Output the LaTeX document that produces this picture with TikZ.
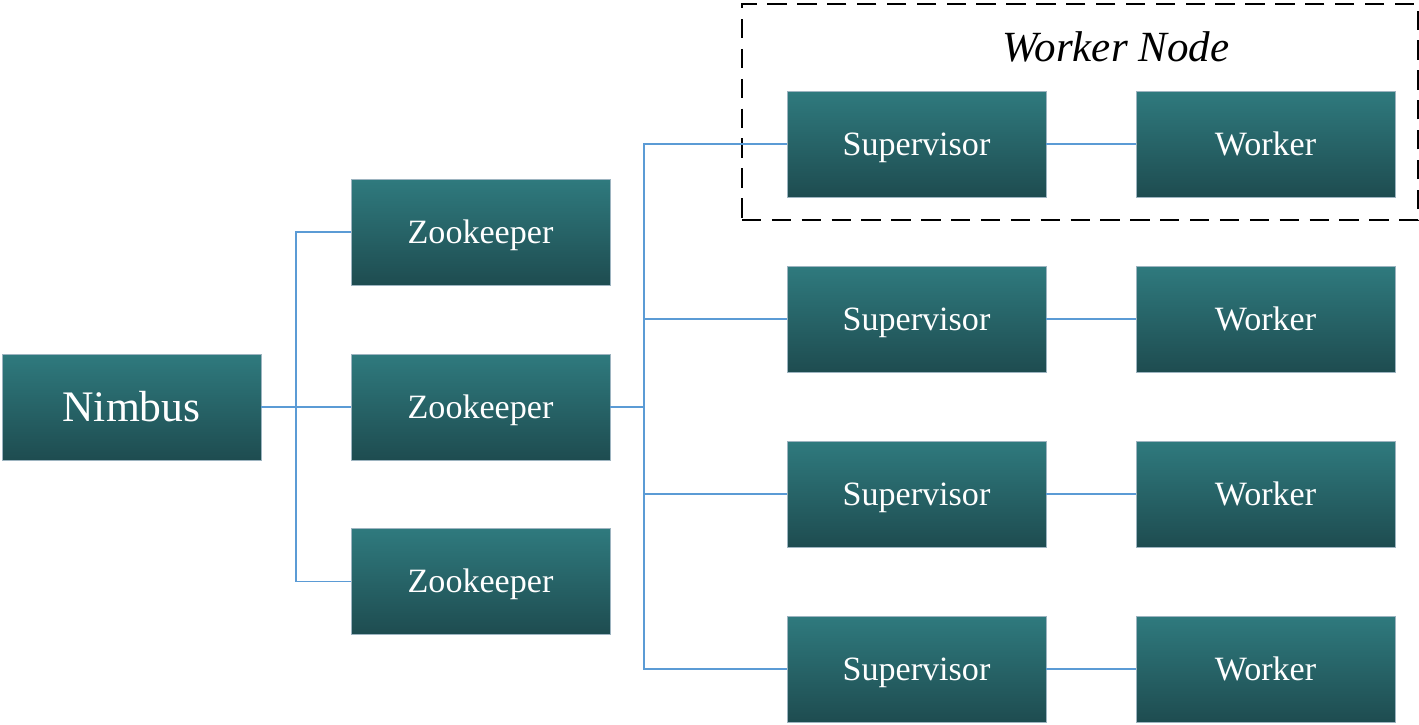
\documentclass[tikz,border=0pt]{standalone}
\usepackage{fontspec}
\setmainfont{Liberation Serif}
\usepackage{tikz}
\usetikzlibrary{positioning,fit,calc}
\definecolor{tealtop}{HTML}{2F7A7E}
\definecolor{tealbot}{HTML}{1E4C50}
\definecolor{rim}{HTML}{9DB4C0}
\definecolor{wire}{HTML}{5B9BD5}
\tikzset{
  unit/.style={rectangle, draw=rim, line width=0.4pt, top color=tealtop, bottom color=tealbot,
               text=white, minimum width=5.18cm, minimum height=2.12cm, inner sep=0pt,
               text height=12.8pt, text depth=0pt,
               font=\fontsize{19.4}{23}\selectfont},
  bigunit/.style={unit, text height=16.4pt, font=\fontsize{24.8}{29}\selectfont},
  link/.style={draw=wire, line width=1.1pt},
  wnbox/.style={rectangle, draw=black, line width=1.1pt, dash pattern=on 11pt off 6pt, inner sep=0pt},
  wnlbl/.style={font=\fontsize{24.5}{29}\selectfont\itshape, text height=16.2pt, text depth=0pt, inner sep=0pt}
}
\begin{document}
\begin{tikzpicture}[x=0.02cm, y=-0.02cm]
  \useasboundingbox (0,0) rectangle (1419,724);
  % grouping frame
  \node[wnbox, fit={(742,4) (1418,220)}] (wnode) {};
  \node[wnlbl] (wnlabel) at (1116,47) {Worker Node};

  \node[bigunit] (nimbus) at (131.5,407) {Nimbus};
  \node[unit] (zk1) at (480.5,232) {Zookeeper};
  \node[unit] (zk2) at (480.5,407) {Zookeeper};
  \node[unit] (zk3) at (480.5,581.5) {Zookeeper};

  \node[unit] (sup1) at (916.5,144) {Supervisor};
  \node[unit] (sup2) at (916.5,319) {Supervisor};
  \node[unit] (sup3) at (916.5,494) {Supervisor};
  \node[unit] (sup4) at (916.5,669) {Supervisor};
  \node[unit] (wrk1) at (1265.5,144) {Worker};
  \node[unit] (wrk2) at (1265.5,319) {Worker};
  \node[unit] (wrk3) at (1265.5,494) {Worker};
  \node[unit] (wrk4) at (1265.5,669) {Worker};

  % wiring
  \coordinate (jA) at (296,407);
  \coordinate (jB) at (644,407);
  \draw[link] (nimbus) -- (zk2);
  \draw[link] (zk1.west) -| (jA) |- (zk3.west);
  \draw[link] (zk2) -- (jB);
  \draw[link] (sup1.west) -| (jB) |- (sup4.west);
  \draw[link] (jB |- sup2.west) -- (sup2.west);
  \draw[link] (jB |- sup3.west) -- (sup3.west);
  \foreach \i in {1,...,4}
    \draw[link] (sup\i) -- (wrk\i);
\end{tikzpicture}
\end{document}
